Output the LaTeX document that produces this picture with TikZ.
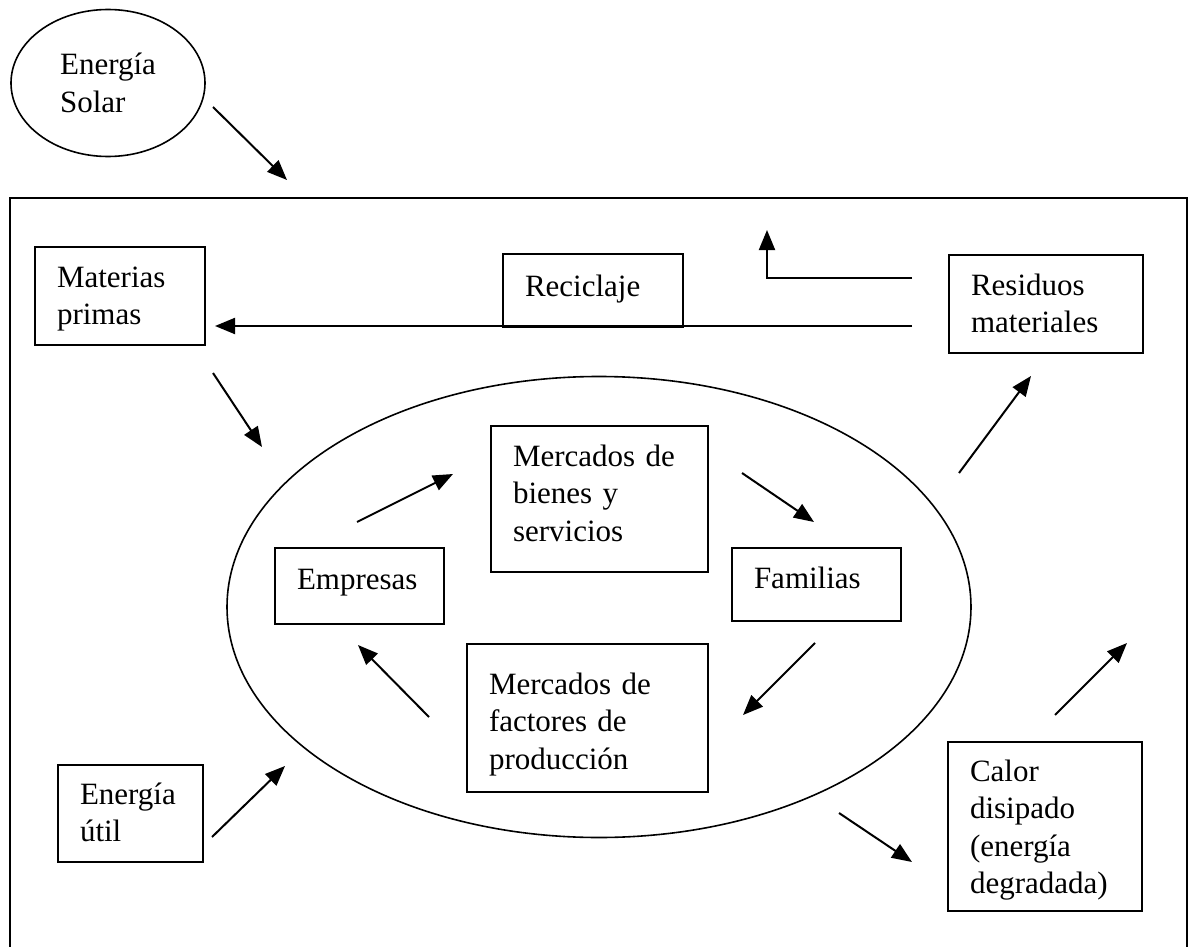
\documentclass[tikz,border=0pt]{standalone}
\usepackage{fontspec}
\setmainfont{Liberation Serif}
\usepackage{tikz}
\usetikzlibrary{shapes.geometric,arrows.meta}

\begin{document}
\begin{tikzpicture}[x=0.5pt, y=-0.5pt, font=\fontsize{15.5}{18.75}\selectfont]
\tikzset{caja/.style={rectangle, draw, line width=1pt, anchor=north west, align=left,
  inner xsep=11pt, inner ysep=0pt, text height=20pt},
 flecha/.style={-{Triangle[length=10pt, width=8pt]}, line width=1pt},
 linea/.style={line width=1pt}}
\useasboundingbox (0,0) rectangle (1189,947);

\draw[linea] (10,990) -- (10,198) -- (1187,198) -- (1187,990);

\node[ellipse, draw, line width=0.8pt, minimum width=97pt, minimum height=73.5pt, align=left] (solar) at (108,83) {Energía\\Solar};
\node[ellipse, draw, line width=0.8pt, minimum width=372pt, minimum height=230.5pt] (sistema) at (599,607) {};

\node[caja, text width=63pt, text depth=29pt] (materias) at (34,246) {Materias\\primas};
\node[caja, text width=68pt, text height=21pt, text depth=15.5pt] (reciclaje) at (502,253) {Reciclaje};
\node[caja, text width=75pt, text depth=29pt] (residuos) at (948,254) {Residuos\\materiales};
\node[caja, text width=86.5pt, text depth=53pt] (bienes) at (490,425) {Mercados de\\bienes y\\servicios};
\node[caja, text width=62.5pt, text height=20.5pt, text depth=17.5pt] (empresas) at (274,547) {Empresas};
\node[caja, text width=62.5pt, text depth=16.5pt] (familias) at (731,547) {Familias};
\node[caja, text width=98.5pt, text height=25pt, text depth=49pt] (factores) at (466,643) {Mercados de\\factores de\\producción};
\node[caja, text width=50.5pt, text height=19.5pt, text depth=29pt] (util) at (57,764) {Energía\\útil};
\node[caja, text width=75pt, text height=19.5pt, text depth=65pt] (calor) at (947,741) {Calor\\disipado\\(energía\\degradada)};

\coordinate (s1) at (213,107); \coordinate (s2) at (287,180);
\coordinate (m1) at (213,373); \coordinate (m2) at (262,447);
\coordinate (r1) at (912,278); \coordinate (r2) at (767,230);
\coordinate (r3) at (912,326); \coordinate (r4) at (215,326);
\coordinate (e1) at (357,522); \coordinate (e2) at (453,474);
\coordinate (b1) at (742,473); \coordinate (b2) at (814,522);
\coordinate (f1) at (815,643); \coordinate (f2) at (743,715);
\coordinate (p1) at (429,717); \coordinate (p2) at (358,645);
\coordinate (d1) at (959,473); \coordinate (d2) at (1031,376);
\coordinate (u1) at (212,837); \coordinate (u2) at (285,766);
\coordinate (c1) at (839,813); \coordinate (c2) at (912,862);
\coordinate (k1) at (1055,715); \coordinate (k2) at (1127,643);

\draw[flecha] (s1) -- (s2);
\draw[flecha] (m1) -- (m2);
\draw[flecha] (r1) -| (r2);
\draw[flecha] (r3) -- (r4);
\draw[flecha] (e1) -- (e2);
\draw[flecha] (b1) -- (b2);
\draw[flecha] (f1) -- (f2);
\draw[flecha] (p1) -- (p2);
\draw[flecha] (d1) -- (d2);
\draw[flecha] (u1) -- (u2);
\draw[flecha] (c1) -- (c2);
\draw[flecha] (k1) -- (k2);
\end{tikzpicture}
\end{document}
